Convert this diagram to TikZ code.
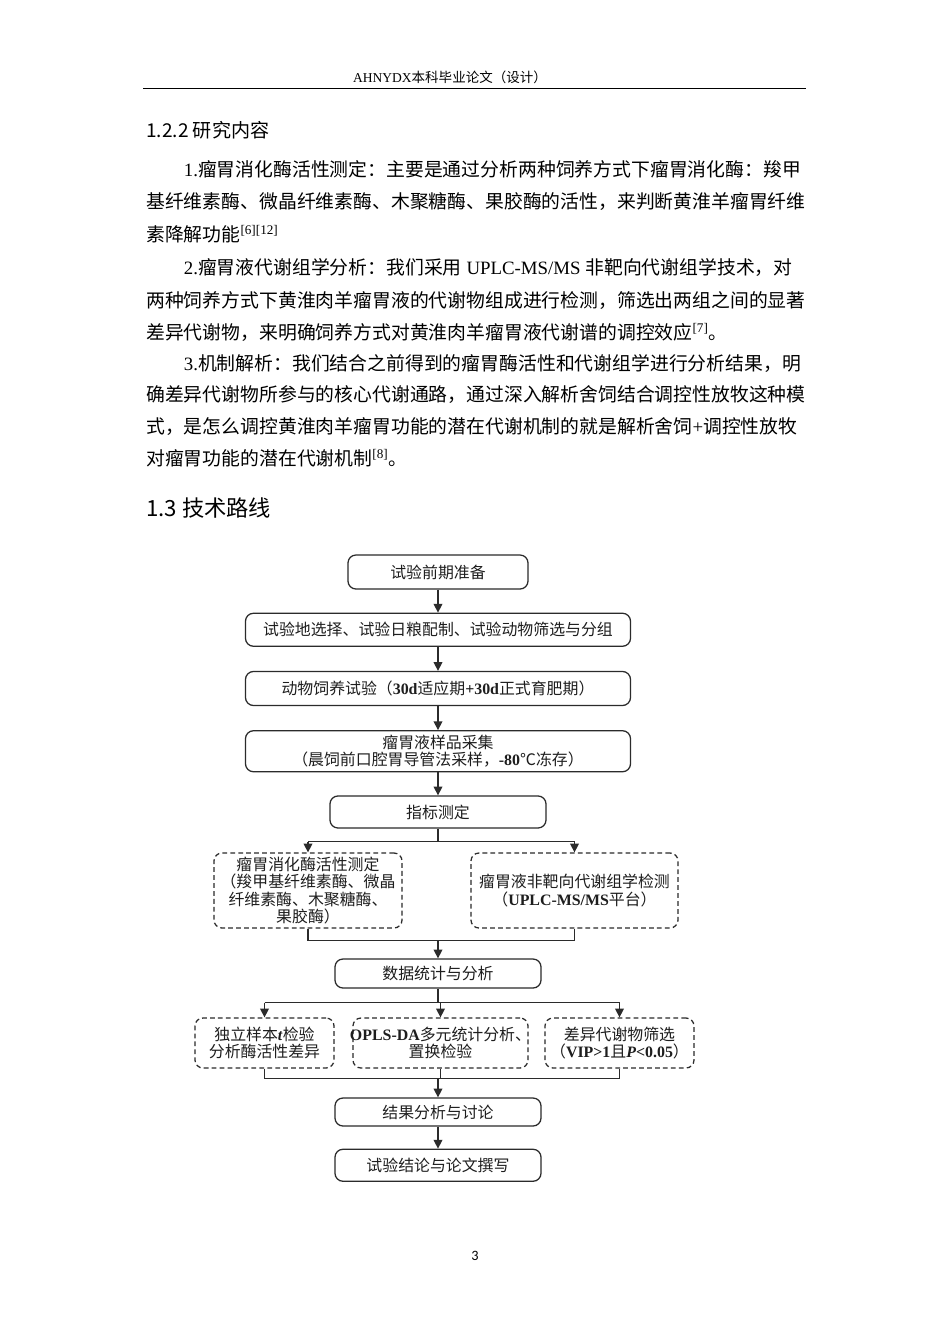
\documentclass[tikz,border=0pt]{standalone}
\usepackage{fontspec}
\setmainfont{Liberation Serif}
\newfontfamily\cjk{Noto Sans CJK SC}
\newfontfamily\pgnum{Carlito}
\usetikzlibrary{positioning,arrows.meta}
\XeTeXlinebreaklocale "zh"
\XeTeXlinebreakskip=0pt plus 1pt
\newcommand\pxl{0.0221053cm}
\newcommand\enrm[1]{{\rmfamily #1}}
\newcommand\enbf[1]{{\rmfamily\bfseries #1}}
\newlength\linew
\setlength\linew{14.589cm}
\newcommand\fullline[1]{\hbox to \linew{#1}}
\definecolor{linegray}{HTML}{2B2B2B}
\definecolor{textgray}{HTML}{1E1E1E}

\begin{document}
\begin{tikzpicture}[
    x=\pxl, y=-\pxl,
    % 设定样式
    box/.style={draw=linegray, line width=0.8pt, rounded corners=5pt, text=textgray, align=center, inner sep=2pt, font=\cjk\fontsize{10}{10.8}\selectfont},
    dbox/.style={box, dash pattern=on 3pt off 2pt},
    arr/.style={draw=linegray, line width=0.8pt, -{Triangle[length=5.5pt,width=5.5pt]}},
    lne/.style={draw=linegray, line width=0.8pt},
    body/.style={anchor=west, inner sep=0pt, font=\cjk\fontsize{11.85}{14}\selectfont},
    ]
    \fill[white] (0,0) rectangle (950,1344);
    \useasboundingbox (0,0) rectangle (950,1344);

    %页眉
    \node[inner sep=0pt, font=\fontsize{8.5}{10}\selectfont] (hd) at (450,77) {AHNYDX{\cjk 本科毕业论文（设计）}};
    \draw[line width=0.5pt] (143,88) -- (806,88);

    %正文
    \node[anchor=west, inner sep=0pt, font=\cjk\fontsize{12}{14}\selectfont] (h1) at (146,130) {1.2.2 研究内容};
    \node[body] (l1) at (146,169) {\fullline{\hspace{2em}\enrm{1.}瘤胃消化酶活性测定：主要是通过分析两种饲养方式下瘤胃消化酶：羧甲}};
    \node[body] (l2) at (146,202) {\fullline{基纤维素酶、微晶纤维素酶、木聚糖酶、果胶酶的活性，来判断黄淮羊瘤胃纤维}};
    \node[body] (l3) at (146,234) {素降解功能\textsuperscript{\enrm{[6][12]}}};
    \node[body] (l4) at (146,268) {\fullline{\hspace{2em}\enrm{2.}瘤胃液代谢组学分析：我们采用\hspace{0.25em}\enrm{UPLC-MS/MS}\hspace{0.25em}非靶向代谢组学技术，对}};
    \node[body] (l5) at (146,301) {\fullline{两种饲养方式下黄淮肉羊瘤胃液的代谢物组成进行检测，筛选出两组之间的显著}};
    \node[body] (l6) at (146,332) {差异代谢物，来明确饲养方式对黄淮肉羊瘤胃液代谢谱的调控效应\textsuperscript{\enrm{[7]}}。};
    \node[body] (l7) at (146,364) {\fullline{\hspace{2em}\enrm{3.}机制解析：我们结合之前得到的瘤胃酶活性和代谢组学进行分析结果，明}};
    \node[body] (l8) at (146,395) {\fullline{确差异代谢物所参与的核心代谢通路，通过深入解析舍饲结合调控性放牧这种模}};
    \node[body] (l9) at (146,427) {\fullline{式，是怎么调控黄淮肉羊瘤胃功能的潜在代谢机制的就是解析舍饲\enrm{+}调控性放牧}};
    \node[body] (l10) at (146,458) {对瘤胃功能的潜在代谢机制\textsuperscript{\enrm{[8]}}。};
    \node[anchor=west, inner sep=0pt, font=\cjk\fontsize{14}{16}\selectfont] (h2) at (146,508) {1.3 技术路线};

    %定义节点:Nodes
    \node[box, minimum width=180*\pxl, minimum height=34*\pxl] (b1) at (438,572) {试验前期准备};
    \node[box, minimum width=385*\pxl, minimum height=33*\pxl] (b2) [below=0.508cm of b1] {试验地选择、试验日粮配制、试验动物筛选与分组};
    \node[box, minimum width=385*\pxl, minimum height=34*\pxl] (b3) [below=0.53cm of b2] {动物饲养试验（\enbf{30d}适应期\enbf{+30d}正式育肥期）};
    \node[box, minimum width=385*\pxl, minimum height=41*\pxl] (b4) [below=0.53cm of b3] {瘤胃液样品采集\\（晨饲前口腔胃导管法采样，\enbf{-80}℃冻存）};
    \node[box, minimum width=216*\pxl, minimum height=32*\pxl] (b5) [below=0.508cm of b4] {指标测定};
    \node[dbox, minimum width=188*\pxl, minimum height=75*\pxl] (dl) at (308,890.5) {瘤胃消化酶活性测定\\（羧甲基纤维素酶、微晶\\纤维素酶、木聚糖酶、\\果胶酶）};
    \node[dbox, minimum width=207*\pxl, minimum height=75*\pxl] (dr) at (574.5,890.5) {瘤胃液非靶向代谢组学检测\\（\enbf{UPLC-MS/MS}平台）};
    \node[box, minimum width=206*\pxl, minimum height=29*\pxl] (st) at (438,973.5) {数据统计与分析};
    \node[dbox, minimum width=139*\pxl, minimum height=50*\pxl] (ta) at (264.5,1043) {独立样本\enbf{\textit{t}}检验\\分析酶活性差异};
    \node[dbox, minimum width=175*\pxl, minimum height=50*\pxl] (tb) at (440.5,1043) {\makebox[0pt]{\enbf{OPLS-DA}多元统计分析、}\\置换检验};
    \node[dbox, minimum width=149*\pxl, minimum height=50*\pxl] (tc) at (619.5,1043) {差异代谢物筛选\\（\enbf{VIP>1}且\enbf{\textit{P}<0.05}）};
    \node[box, minimum width=206*\pxl, minimum height=28*\pxl] (rs) at (438,1112) {结果分析与讨论};
    \node[box, minimum width=206*\pxl, minimum height=32*\pxl] (cl) [below=0.486cm of rs] {试验结论与论文撰写};

    %Lines
    \draw[arr] (b1) -- (b2);
    \draw[arr] (b2) -- (b3);
    \draw[arr] (b3) -- (b4);
    \draw[arr] (b4) -- (b5);
    \draw[lne] (b5.south) -- ++(0,13) coordinate (s1);
    \draw[lne] (s1 -| dl.north) -- (s1 -| dr.north);
    \draw[arr] (s1 -| dl.north) -- (dl.north);
    \draw[arr] (s1 -| dr.north) -- (dr.north);
    \draw[lne] (dl.south) -- ++(0,12) coordinate (m1) -| (dr.south);
    \draw[arr] (m1 -| st.north) -- (st.north);
    \draw[lne] (st.south) -- ++(0,14) coordinate (s2);
    \draw[lne] (s2 -| ta.north) -- (s2 -| tc.north);
    \draw[arr] (s2 -| ta.north) -- (ta.north);
    \draw[arr] (s2 -| tb.north) -- (tb.north);
    \draw[arr] (s2 -| tc.north) -- (tc.north);
    \draw[lne] (ta.south) -- ++(0,10) coordinate (m2) -| (tc.south);
    \draw[lne] (tb.south) -- (m2 -| tb.south);
    \draw[arr] (m2 -| rs.north) -- (rs.north);
    \draw[arr] (rs) -- (cl);

    %页码
    \node[font=\pgnum\fontsize{9}{10}\selectfont] (pg) at (475,1256) {3};
\end{tikzpicture}
\end{document}
